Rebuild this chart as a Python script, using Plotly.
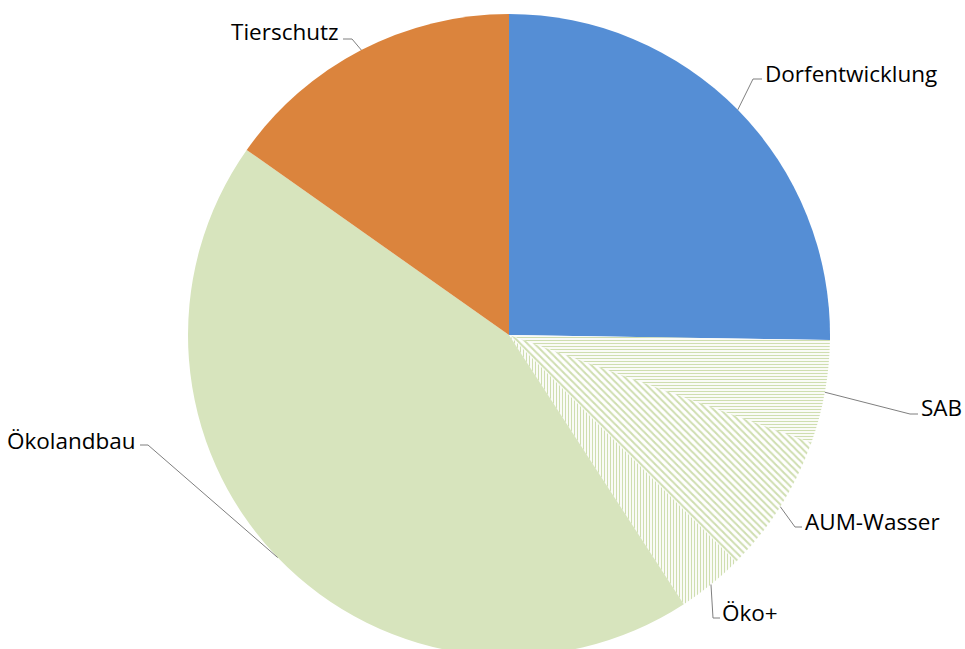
import math
import plotly.graph_objects as go

# Funding shares per measure (percent), clockwise from 12 o'clock
labels = ["Dorfentwicklung", "SAB", "AUM-Wasser", "Öko+", "Ökolandbau", "Tierschutz"]
values = [25.25, 5.2, 7.05, 3.33, 43.94, 15.22]

slice_colors = ["#558ED5", "#FFFFFF", "#FFFFFF", "#FFFFFF", "#D7E4BD", "#DB843D"]
pattern_shapes = ["", "-", "\\", "|", "", ""]
pattern_sizes = [6, 3, 5, 3, 6, 6]
HATCH = "#CFDEB0"

W, H = 965, 660
CX, CY, R = 509, 335, 321  # pie centre / radius in pixels (from top-left)


def px(x, y):
    return x / W, (H - y) / H


# label layout: elbow point, elbow end, text anchor x, text mid y, side
label_layout = {
    "Dorfentwicklung": dict(elbow=(753, 79), end=(762, 79), tx=763, ty=74, anchor="left"),
    "SAB": dict(elbow=(910, 414), end=(918, 414), tx=919, ty=407, anchor="left"),
    "AUM-Wasser": dict(elbow=(795, 527), end=(802, 527), tx=803, ty=521, anchor="left"),
    "Öko+": dict(elbow=(713, 618), end=(720, 618), tx=720, ty=612, anchor="left"),
    "Ökolandbau": dict(elbow=(148, 445), end=(140, 445), tx=138, ty=440, anchor="right"),
    "Tierschutz": dict(elbow=(352, 39), end=(343, 39), tx=341, ty=31, anchor="right"),
}

fig = go.Figure(
    go.Pie(
        labels=labels,
        values=values,
        sort=False,
        direction="clockwise",
        rotation=0,
        textinfo="none",
        hoverinfo="label+percent",
        showlegend=False,
        marker=dict(
            colors=slice_colors,
            line=dict(width=0),
            pattern=dict(
                shape=pattern_shapes,
                fgcolor=HATCH,
                bgcolor="#FFFFFF",
                size=pattern_sizes,
                solidity=0.4,
                fillmode="replace",
            ),
        ),
        domain=dict(
            x=[(CX - R) / W, (CX + R) / W],
            y=[(H - CY - R) / H, (H - CY + R) / H],
        ),
    )
)

# leader lines start at the mid-angle of each slice on the pie edge
total = sum(values)
cum = 0.0
shapes, annotations = [], []
for lab, val in zip(labels, values):
    mid = (cum + val / 2) / total * 2 * math.pi
    cum += val
    sx, sy = CX + R * math.sin(mid), CY - R * math.cos(mid)
    L = label_layout[lab]
    pts = [px(sx, sy), px(*L["elbow"]), px(*L["end"])]
    path = "M {} {} L {} {} L {} {}".format(*[c for p in pts for c in p])
    shapes.append(dict(type="path", path=path, xref="paper", yref="paper",
                       line=dict(color="#7F7F7F", width=1)))
    ax, ay = px(L["tx"], L["ty"])
    annotations.append(dict(
        text=lab, x=ax, y=ay, xref="paper", yref="paper",
        xanchor=L["anchor"], yanchor="middle", showarrow=False,
        font=dict(family="Open Sans", size=22.5, color="#000000"),
    ))

fig.update_layout(
    width=W,
    height=H,
    margin=dict(l=0, r=0, t=0, b=0),
    paper_bgcolor="#FFFFFF",
    plot_bgcolor="#FFFFFF",
    shapes=shapes,
    annotations=annotations,
)

fig.write_html(
    "out.html",
    post_script="document.body.style.margin='0';document.body.style.overflow='hidden';"
                "document.documentElement.style.overflow='hidden';",
)
